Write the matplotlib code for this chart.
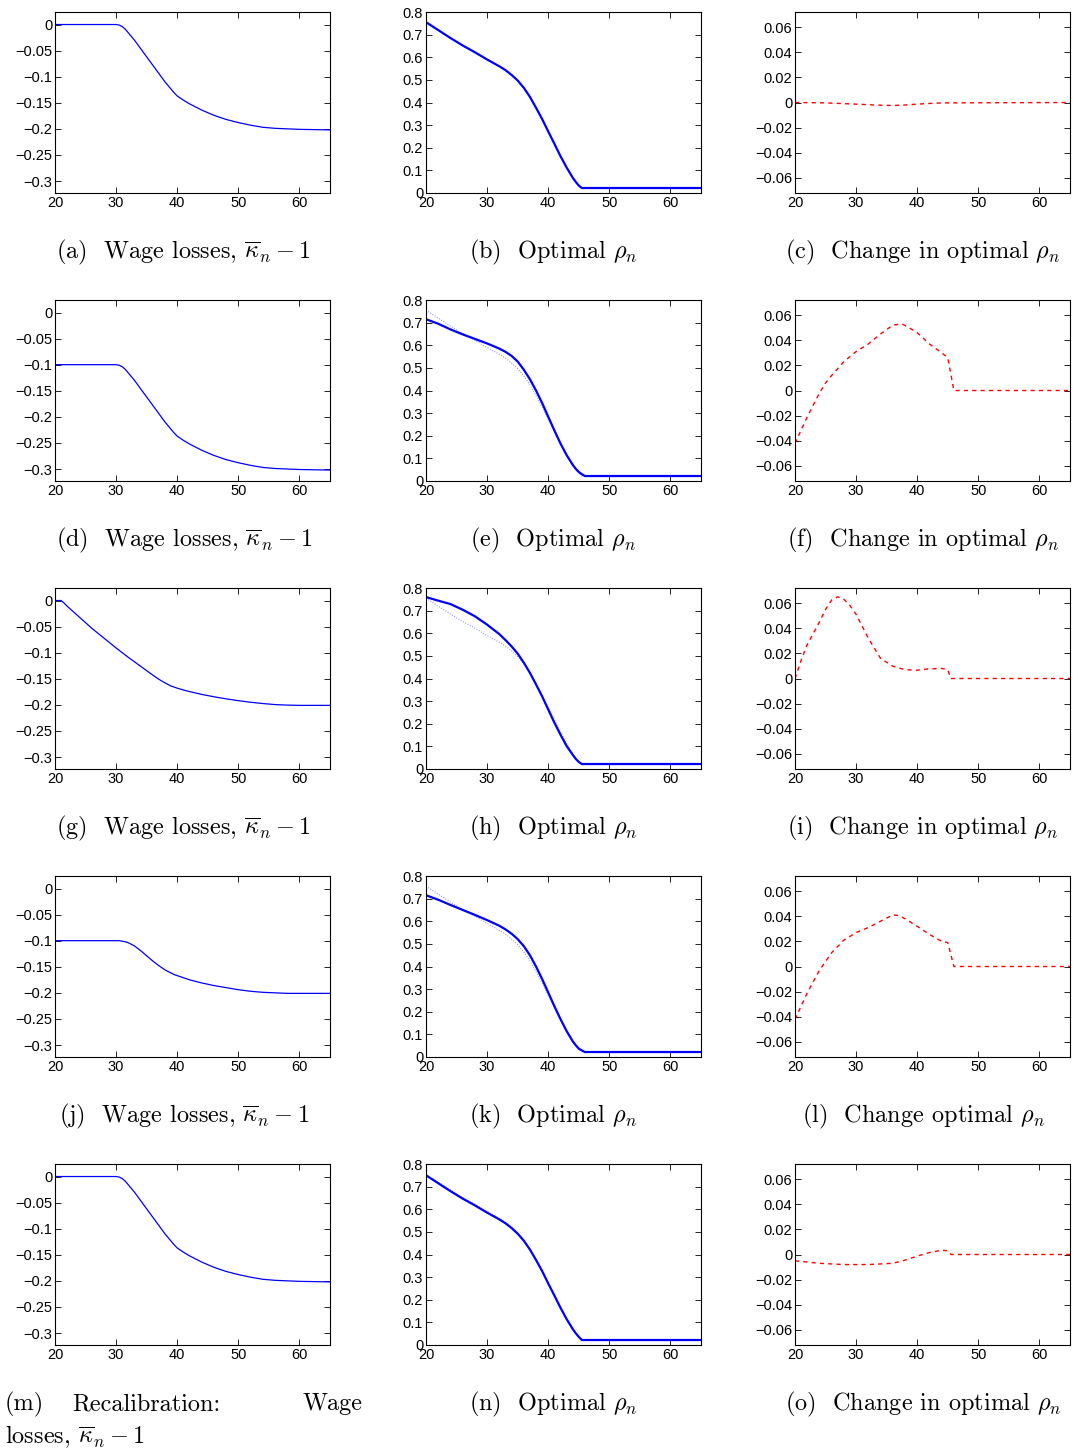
# coding:utf-8
# Wage losses and optimal replacement rate, five scenarios

import matplotlib
matplotlib.use("Agg")
import matplotlib.pyplot as plt
from matplotlib.ticker import FuncFormatter

plt.rcParams['mathtext.fontset'] = 'cm'
plt.rcParams['font.family'] = ['Liberation Sans', 'DejaVu Sans']

# ---- data ----
# wage losses, kappa_n - 1
age_w = [20, 30, 30.5, 31, 31.5, 32, 33, 34, 35, 36, 37, 38, 39, 39.5, 40, 41, 42,
         44, 46, 48, 50, 52, 54, 56, 58, 60, 65]
wage_a = [0, 0, -0.001, -0.004, -0.009, -0.016, -0.030, -0.046, -0.062, -0.078, -0.094,
          -0.110, -0.124, -0.131, -0.137, -0.145, -0.152, -0.164, -0.174, -0.182, -0.188,
          -0.193, -0.197, -0.199, -0.200, -0.201, -0.202]
wage_d = [-0.1, -0.1, -0.101, -0.104, -0.109, -0.116, -0.130, -0.146, -0.162, -0.178, -0.194,
          -0.210, -0.224, -0.231, -0.237, -0.245, -0.252, -0.264, -0.274, -0.282, -0.288,
          -0.293, -0.297, -0.299, -0.300, -0.301, -0.302]
wage_j = [-0.1, -0.1, -0.1, -0.101, -0.102, -0.104, -0.110, -0.119, -0.129, -0.139, -0.148,
          -0.156, -0.162, -0.165, -0.167, -0.171, -0.175, -0.181, -0.186, -0.190, -0.194,
          -0.197, -0.199, -0.200, -0.201, -0.201, -0.201]
wage_m = [0, 0, -0.001, -0.004, -0.009, -0.016, -0.030, -0.046, -0.062, -0.078, -0.094,
          -0.110, -0.124, -0.131, -0.137, -0.145, -0.152, -0.164, -0.174, -0.182, -0.188,
          -0.193, -0.197, -0.199, -0.200, -0.201, -0.202]
age_g = [20, 21, 21.5, 22, 24, 26, 28, 30, 32, 34, 36, 37, 38, 39, 40, 41, 42, 44, 46, 48,
         50, 52, 54, 56, 58, 60, 65]
wage_g = [0, 0, -0.005, -0.011, -0.032, -0.053, -0.072, -0.091, -0.109, -0.126, -0.143,
          -0.151, -0.158, -0.164, -0.168, -0.1715, -0.1745, -0.180, -0.1845, -0.1885, -0.192,
          -0.195, -0.1975, -0.1995, -0.2005, -0.201, -0.201]

# optimal rho_n
age_r = [20, 22, 24, 26, 28, 30, 32, 33, 34, 35, 36, 37, 38, 39, 40, 41, 42, 43, 44,
         44.5, 45, 45.5, 46, 65]
rho_base = [0.755, 0.72, 0.685, 0.652, 0.622, 0.59, 0.56, 0.543, 0.522, 0.497, 0.465, 0.425,
            0.377, 0.327, 0.272, 0.218, 0.163, 0.113, 0.068, 0.049, 0.033, 0.022, 0.022, 0.022]
rho_e = [0.715, 0.695, 0.670, 0.648, 0.628, 0.608, 0.585, 0.571, 0.553, 0.528, 0.492, 0.450,
         0.400, 0.345, 0.284, 0.224, 0.166, 0.115, 0.072, 0.054, 0.040, 0.030, 0.022, 0.022]
rho_h = [0.760, 0.744, 0.729, 0.704, 0.675, 0.638, 0.596, 0.570, 0.542, 0.510, 0.470, 0.425,
         0.374, 0.321, 0.263, 0.205, 0.152, 0.102, 0.063, 0.045, 0.031, 0.022, 0.022, 0.022]
rho_k = [0.715, 0.695, 0.672, 0.650, 0.628, 0.605, 0.580, 0.564, 0.545, 0.521, 0.490, 0.450,
         0.400, 0.345, 0.285, 0.225, 0.168, 0.115, 0.070, 0.052, 0.037, 0.029, 0.022, 0.022]
rho_n = [0.750, 0.715, 0.680, 0.647, 0.617, 0.585, 0.555, 0.538, 0.517, 0.492, 0.461, 0.422,
         0.376, 0.327, 0.272, 0.219, 0.165, 0.115, 0.071, 0.052, 0.036, 0.022, 0.022, 0.022]

# change in optimal rho_n
age_c = [20, 25, 30, 33, 36, 38, 40, 43, 45, 65]
chg_c = [0, -0.0003, -0.0013, -0.002, -0.0024, -0.002, -0.0013, -0.0005, -0.0003, 0]
age_f = [20, 22, 24, 25, 26, 28, 30, 32, 34, 36, 37.5, 39, 40, 42, 44, 45, 46, 65]
chg_f = [-0.042, -0.021, -0.002, 0.006, 0.012, 0.023, 0.031, 0.037, 0.045, 0.052, 0.053,
         0.049, 0.046, 0.037, 0.030, 0.026, 0, 0]
age_i = [20, 21, 22, 24, 25, 26, 27, 28, 29, 30, 32, 34, 36, 38, 40, 42, 44, 45, 45.5, 65]
chg_i = [0, 0.0145, 0.027, 0.045, 0.055, 0.0625, 0.065, 0.063, 0.058, 0.051, 0.032, 0.016,
         0.0098, 0.007, 0.0066, 0.0077, 0.008, 0.007, 0, 0]
age_l = [20, 22, 24, 26, 28, 30, 32, 34, 36, 37, 38, 40, 42, 44, 45, 46, 65]
chg_l = [-0.042, -0.021, -0.003, 0.011, 0.021, 0.027, 0.031, 0.036, 0.041, 0.0405, 0.038,
         0.032, 0.0255, 0.020, 0.019, 0, 0]
age_o = [20, 24, 28, 32, 36, 38, 40, 42, 44, 45, 45.5, 65]
chg_o = [-0.005, -0.007, -0.008, -0.008, -0.007, -0.0045, -0.0013, 0.0016, 0.0034, 0.003, 0, 0]

wage_rows = [(age_w, wage_a), (age_w, wage_d), (age_g, wage_g), (age_w, wage_j), (age_w, wage_m)]
rho_rows = [rho_base, rho_e, rho_h, rho_k, rho_n]
chg_rows = [(age_c, chg_c), (age_f, chg_f), (age_i, chg_i), (age_l, chg_l), (age_o, chg_o)]

kap = r'$\overline{\kappa}_n-1$'
rho = r'$\rho_n$'
captions = [
    ['(a)  Wage losses, ' + kap, '(b)  Optimal ' + rho, '(c)  Change in optimal ' + rho],
    ['(d)  Wage losses, ' + kap, '(e)  Optimal ' + rho, '(f)  Change in optimal ' + rho],
    ['(g)  Wage losses, ' + kap, '(h)  Optimal ' + rho, '(i)  Change in optimal ' + rho],
    ['(j)  Wage losses, ' + kap, '(k)  Optimal ' + rho, '(l)  Change optimal ' + rho],
    [None, '(n)  Optimal ' + rho, '(o)  Change in optimal ' + rho],
]


def fmt(v, pos):
    s = '%g' % round(v, 4)
    return s.replace('-', '\u2212')


W, H = 1073, 1453
fig = plt.figure(figsize=(W / 100, H / 100), dpi=100)

lefts = [55, 426, 795]
tops = [12, 300, 588, 876, 1164]
aw, ah = 275, 181
cap_x = [184, 553, 923]
cap_kw = dict(fontsize=17.5, family='cmr10')


def style(ax):
    ax.tick_params(direction='in', top=True, right=True, length=4, width=0.6,
                   labelsize=10.5, pad=2)
    for s in ax.spines.values():
        s.set_linewidth(0.8)
    ax.set_xlim(20, 65)
    ax.set_xticks([20, 30, 40, 50, 60])
    ax.yaxis.set_major_formatter(FuncFormatter(fmt))


for r in range(5):
    axs = [fig.add_axes([lefts[c] / W, 1 - (tops[r] + ah) / H, aw / W, ah / H]) for c in range(3)]

    x, y = wage_rows[r]
    axs[0].plot(x, y, color='blue', lw=0.9)
    axs[0].set_ylim(-0.323, 0.024)
    axs[0].set_yticks([0, -0.05, -0.1, -0.15, -0.2, -0.25, -0.3])

    axs[1].plot(age_r, rho_base, color='#8080ff', lw=0.7, ls=':')
    axs[1].plot(age_r, rho_rows[r], color='blue', lw=1.6)
    axs[1].set_ylim(0, 0.8)
    axs[1].set_yticks([0, 0.1, 0.2, 0.3, 0.4, 0.5, 0.6, 0.7, 0.8])

    x, y = chg_rows[r]
    axs[2].plot(x, y, color='red', lw=1.0, ls=(0, (3, 3)))
    axs[2].set_ylim(-0.072, 0.072)
    axs[2].set_yticks([-0.06, -0.04, -0.02, 0, 0.02, 0.04, 0.06])

    for ax in axs:
        style(ax)

    cy = 1 - (tops[r] + 240) / H
    for c in range(3):
        if captions[r][c] is not None:
            fig.text(cap_x[c] / W, cy, captions[r][c], ha='center', va='center', **cap_kw)

# caption (m), justified over two lines
cy = 1 - (tops[4] + 240) / H
fig.text(5 / W, cy, '(m)', ha='left', va='center', **cap_kw)
fig.text(72 / W, cy, 'Recalibration:', ha='left', va='center', **cap_kw)
fig.text(363 / W, cy, 'Wage', ha='right', va='center', **cap_kw)
fig.text(5 / W, 1 - 1437 / H, 'losses, ' + kap, ha='left', va='center', **cap_kw)

fig.savefig('out.png', dpi=100)
